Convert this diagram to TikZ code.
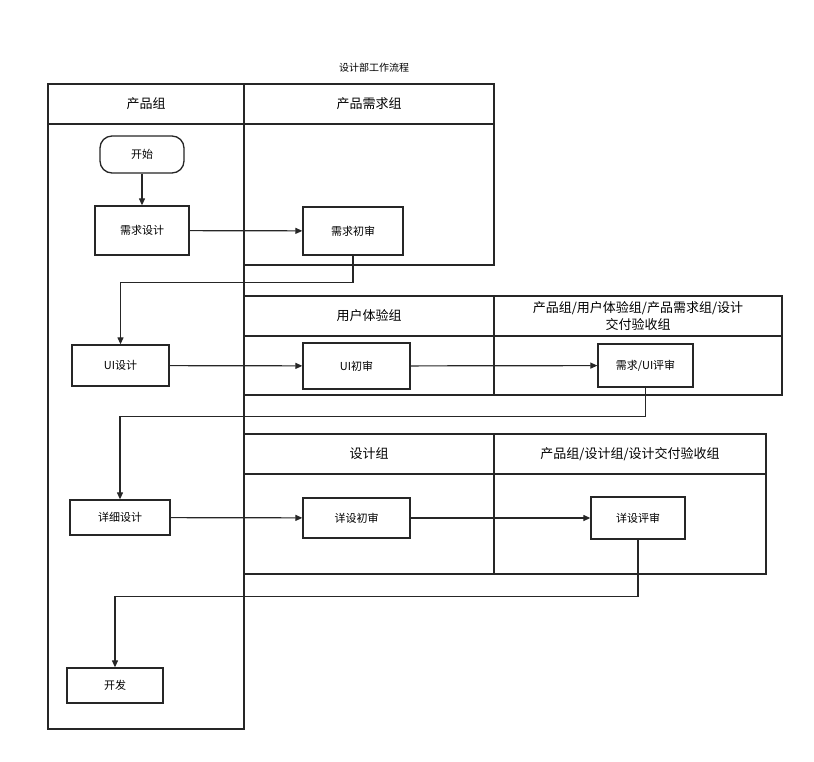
\documentclass[tikz,border=0pt]{standalone}
\usepackage{fontspec}
\setmainfont{Noto Sans CJK SC}
\usetikzlibrary{arrows.meta}
\begin{document}
\begin{tikzpicture}[x=1pt,y=-1pt,
 lane/.style={draw=black!85,line width=1.3pt},
 box/.style={draw=black!85,line width=1.3pt,fill=white,font=\fontsize{11}{13}\selectfont,inner sep=0pt},
 hd/.style={font=\fontsize{13}{15}\selectfont,align=center},
 ar/.style={draw=black!85,line width=1.2pt,-{Triangle[length=7pt,width=6pt]}}]
\useasboundingbox (0,0) rectangle (814,761);
\node[font=\fontsize{10}{12}\selectfont] (title) at (374,68) {设计部工作流程};
% lanes
\draw[lane] (48,84) rectangle (244,729); \draw[lane] (48,124) -- (244,124);
\node[hd] (h1) at (146,104) {产品组};
\draw[lane] (244,84) rectangle (494,265); \draw[lane] (244,124) -- (494,124);
\node[hd] (h2) at (369,104) {产品需求组};
\draw[lane] (244,296) rectangle (494,395); \draw[lane] (244,336) -- (494,336);
\node[hd] (h3) at (369,316) {用户体验组};
\draw[lane] (494,296) rectangle (782,395); \draw[lane] (494,336) -- (782,336);
\node[hd,font=\fontsize{13}{17}\selectfont] (h4) at (638,316) {产品组/用户体验组/产品需求组/设计\\交付验收组};
\draw[lane] (244,434) rectangle (494,574); \draw[lane] (244,474) -- (494,474);
\node[hd] (h5) at (369,454) {设计组};
\draw[lane] (494,434) rectangle (766,574); \draw[lane] (494,474) -- (766,474);
\node[hd] (h6) at (630,454) {产品组/设计组/设计交付验收组};
% nodes
\node[box,rounded corners=12pt,minimum width=84pt,minimum height=37pt] (start) at (142,154.5) {开始};
\node[box,minimum width=94pt,minimum height=49pt] (xqsj) at (142,230.5) {需求设计};
\node[box,minimum width=100pt,minimum height=48pt] (xqcs) at (353,231) {需求初审};
\node[box,minimum width=97pt,minimum height=41pt] (uisj) at (120.5,365.5) {UI设计};
\node[box,minimum width=107pt,minimum height=46pt] (uics) at (356.5,366) {UI初审};
\node[box,minimum width=95pt,minimum height=43pt] (uips) at (645.5,365.5) {需求/UI评审};
\node[box,minimum width=100pt,minimum height=35pt] (xxsj) at (120,517.5) {详细设计};
\node[box,minimum width=107pt,minimum height=40pt] (xscs) at (356.5,518) {详设初审};
\node[box,minimum width=94pt,minimum height=42pt] (xsps) at (638,518) {详设评审};
\node[box,minimum width=96pt,minimum height=35pt] (kf) at (115,685.5) {开发};
% edges
\draw[ar] (start) -- (xqsj);
\draw[ar] (xqsj) -- (xqcs);
\draw[ar] (xqcs.south) -- ++(0,27) -| (uisj.north);
\draw[ar] (uisj) -- (uics);
\draw[ar] (uics) -- (uips);
\draw[ar] (uips.south) -- ++(0,29) -| (xxsj.north);
\draw[ar] (xxsj) -- (xscs);
\draw[ar] (xscs) -- (xsps);
\draw[ar] (xsps.south) -- ++(0,57) -| (kf.north);
\end{tikzpicture}
\end{document}
